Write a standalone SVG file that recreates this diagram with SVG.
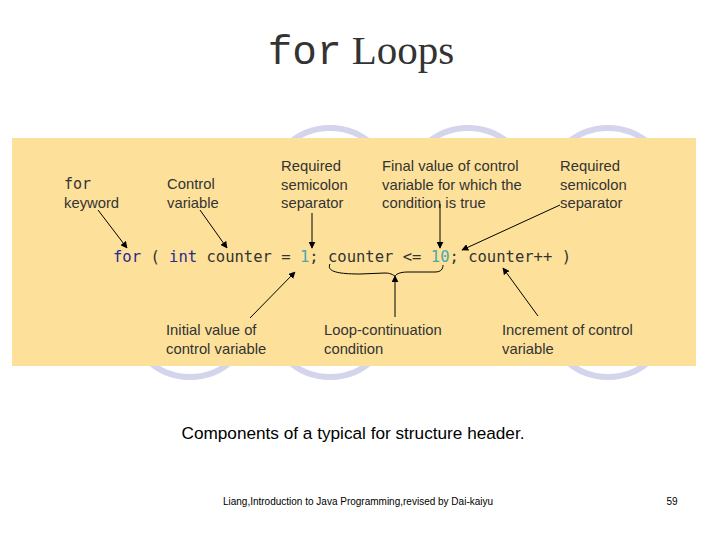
<svg xmlns="http://www.w3.org/2000/svg" width="720" height="540" viewBox="0 0 720 540">
<defs>
<marker id="ah" viewBox="0 0 10 10" refX="9" refY="5" markerWidth="7" markerHeight="7" orient="auto-start-reverse" markerUnits="userSpaceOnUse"><path d="M0,0 L10,5 L0,10 z" fill="#000"/></marker>
<style>
.c{fill:#fff;stroke:#d4d4ec;stroke-width:6}
.l{font-family:"Liberation Sans",Arial,sans-serif;font-size:14.8px;fill:#333}
.a{stroke:#000;stroke-width:1;fill:none;marker-end:url(#ah)}
.m{font-family:"DejaVu Sans Mono","Liberation Mono",monospace;font-size:15px;fill:#333}
</style>
</defs>
<rect width="720" height="540" fill="#fff"/>
<text x="361" y="64" text-anchor="middle" font-size="41" fill="#333"><tspan font-family="Liberation Mono,monospace">for</tspan><tspan font-family="Liberation Serif,serif"> Loops</tspan></text>
<g id="bg">
<circle class="c" cx="330" cy="190" r="62"/><circle class="c" cx="468" cy="190" r="62"/><circle class="c" cx="608" cy="190" r="62"/>
<circle class="c" cx="190" cy="315" r="62"/><circle class="c" cx="330" cy="315" r="62"/><circle class="c" cx="608" cy="315" r="62"/>
<rect x="12" y="138" width="684" height="228" fill="#fde19a"/>
</g>
<g id="code"><text class="m" x="113" y="262" textLength="458" lengthAdjust="spacingAndGlyphs"><tspan fill="#2a2a8c">for</tspan> ( <tspan fill="#2a2a8c">int</tspan> counter = <tspan fill="#4aa8b0">1</tspan>; counter &lt;= <tspan fill="#4aa8b0">10</tspan>; counter++ )</text></g>
<g id="n-for"><text class="m" x="64" y="189" font-size="16">for</text><text class="l" x="64" y="208">keyword</text></g>
<g id="n-ctrl"><text class="l" x="167" y="189">Control</text><text class="l" x="167" y="208">variable</text></g>
<g id="n-semi1"><text class="l" x="281" y="171">Required</text><text class="l" x="281" y="190">semicolon</text><text class="l" x="281" y="208">separator</text></g>
<g id="n-final"><text class="l" x="382" y="171">Final value of control</text><text class="l" x="382" y="190">variable for which the</text><text class="l" x="382" y="208">condition is true</text></g>
<g id="n-semi2"><text class="l" x="560" y="171">Required</text><text class="l" x="560" y="190">semicolon</text><text class="l" x="560" y="208">separator</text></g>
<g id="n-init"><text class="l" x="166" y="335">Initial value of</text><text class="l" x="166" y="354">control variable</text></g>
<g id="n-loop"><text class="l" x="324" y="335">Loop-continuation</text><text class="l" x="324" y="354">condition</text></g>
<g id="n-inc"><text class="l" x="502" y="335">Increment of control</text><text class="l" x="502" y="354">variable</text></g>
<g id="connectors">
<path class="a" d="M98,210 L127,248"/>
<path class="a" d="M200,210 L227,248"/>
<path class="a" d="M312,213 L312,248"/>
<path class="a" d="M440,204 L440,248"/>
<path class="a" d="M560,205 L462,250"/>
<path class="a" d="M250,318 L295,272"/>
<path class="a" d="M395,317 L395,276"/>
<path class="a" d="M538,316 L503,268"/>
<path d="M330,264 C326,272 340,274 360,274 L385,273 C392,273 394,276 395,276 C396,275 398,272 408,272 L435,272 C441,272 443,269 443,265" fill="none" stroke="#000" stroke-width="1"/>
</g>
<text x="353" y="439" text-anchor="middle" font-family="Liberation Sans,Arial,sans-serif" font-size="17.2" fill="#000">Components of a typical for structure header.</text>
<text x="358" y="505" text-anchor="middle" font-family="Liberation Sans,Arial,sans-serif" font-size="10" fill="#000">Liang,Introduction to Java Programming,revised by Dai-kaiyu</text>
<text x="672" y="505" text-anchor="middle" font-family="Liberation Sans,Arial,sans-serif" font-size="10" fill="#000">59</text>
</svg>
